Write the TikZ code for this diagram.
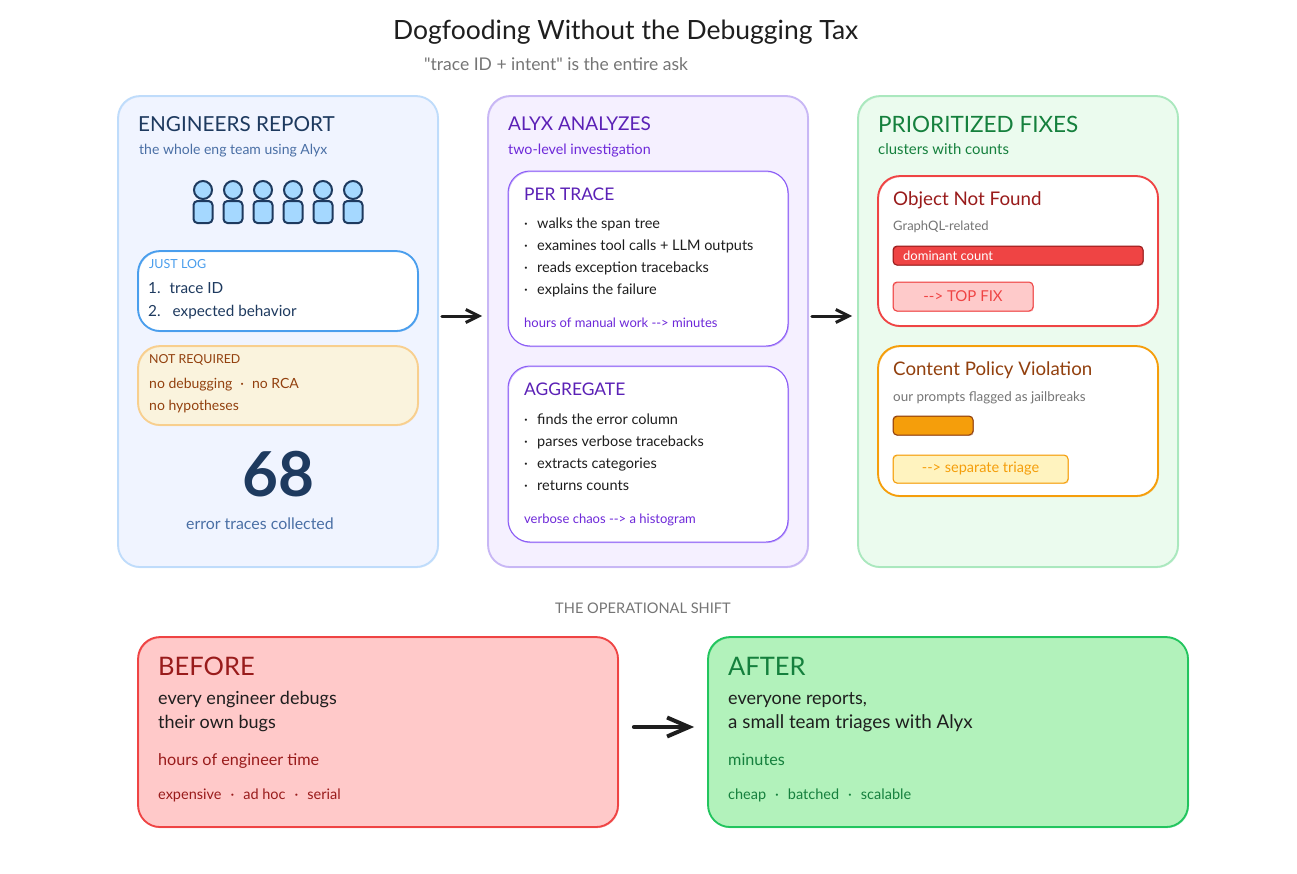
\documentclass[tikz,border=0pt]{standalone}
\usepackage{fontspec}
\setmainfont{Lato}[Ligatures=TeXOff]
\usetikzlibrary{arrows.meta}

\definecolor{ink}{HTML}{1E1E1E}
\definecolor{grey}{HTML}{757575}
\definecolor{navy}{HTML}{1E3A5F}
\definecolor{steel}{HTML}{4A6FA5}
\definecolor{skyline}{HTML}{4A9EED}
\definecolor{plum}{HTML}{5B21B6}
\definecolor{violet}{HTML}{6D28D9}
\definecolor{lilac}{HTML}{8B5CF6}
\definecolor{forest}{HTML}{15803D}
\definecolor{rust}{HTML}{92400E}
\definecolor{wine}{HTML}{991B1B}
\definecolor{coral}{HTML}{EF4444}
\definecolor{amber}{HTML}{F59E0B}
\definecolor{grass}{HTML}{22C55E}
\definecolor{person}{HTML}{A5D8FF}
\definecolor{reportline}{HTML}{BFDCFB}
\definecolor{reportfill}{HTML}{F0F4FF}
\definecolor{analyzeline}{HTML}{C8B7F5}
\definecolor{analyzefill}{HTML}{F5F0FF}
\definecolor{fixesline}{HTML}{AAE8BE}
\definecolor{fixesfill}{HTML}{EBFBEE}
\definecolor{sandline}{HTML}{F8CF8E}
\definecolor{sandfill}{HTML}{FAF3DD}
\definecolor{pinkfill}{HTML}{FECACA}
\definecolor{creamfill}{HTML}{FFF3BF}
\definecolor{beforefill}{HTML}{FFC9C9}
\definecolor{afterfill}{HTML}{B2F2BB}

\tikzset{
  txt/.style={anchor=base west, inner sep=0pt, yshift={-0.33*#1-0.6}, font=\fontsize{#1}{#1}\selectfont},
  mid/.style={anchor=base, inner sep=0pt, yshift={-0.33*#1-0.6}, font=\fontsize{#1}{#1}\selectfont},
  size/.style 2 args={minimum width=#1pt, minimum height=#2pt, inner sep=0pt},
  box/.style={draw=#1, rectangle, line width=1.8pt, rounded corners=22pt,
    postaction={draw=#1, line width=.8pt, opacity=.5, transform canvas={shift={(.6pt,-.7pt)}}}},
  thinbox/.style={box=#1, line width=1pt},
  chip/.style={draw=#1, rectangle, line width=1pt, rounded corners=4pt,
    postaction={draw=#1, line width=.6pt, opacity=.5, transform canvas={shift={(.5pt,-.6pt)}}}},
  head/.style={draw=navy, fill=person, circle, line width=2pt, minimum size=18pt, inner sep=0pt},
  body/.style={draw=navy, fill=person, rectangle, line width=2pt, rounded corners=4pt, size={19}{22}},
  link/.style={draw=ink, line width=3pt, line cap=round, -{Straight Barb[length=13pt,width=13pt]}},
  biglink/.style={draw=ink, line width=4pt, line cap=round, -{Straight Barb[length=22pt,width=19pt]}},
}
\newcommand{\bul}{\makebox[13pt][l]{·}}

\begin{document}
\begin{tikzpicture}[x=1pt, y=-1pt]
  \useasboundingbox (0,0) rectangle (1297,873);
  \fill[white] (0,0) rectangle (1297,873);

  % heading
  \node[txt=26.5, text=ink] (heading) at (393,30) {Dogfooding Without the Debugging Tax};
  \node[txt=17.5, text=grey] (ask) at (424,64) {"trace ID + intent" is the entire ask};

  % three panels
  \node[box=reportline, fill=reportfill, size={320}{471}] (report) at (278,331.5) {};
  \node[box=analyzeline, fill=analyzefill, size={320}{471}] (analyze) at (648,331.5) {};
  \node[box=fixesline, fill=fixesfill, size={320}{471}] (fixes) at (1018,331.5) {};

  % engineers report
  \node[txt=20.7, text=navy] (reporttitle) at (138,124) {ENGINEERS REPORT};
  \node[txt=14, text=steel] (reportsub) at (139,149) {the whole eng team using Alyx};
  \foreach \x [count=\i] in {203,233,263,293,323,353} {
    \node[body] (body\i) at (\x,212) {};
    \node[head] (head\i) at (\x,190) {};
  }
  \node[box=skyline, fill=white, size={280}{80}] (justlog) at (278,291) {};
  \node[txt=12.5, text=skyline] (justlogtitle) at (149,264) {JUST LOG};
  \node[txt=15.3, text=navy] (item1) at (148,288) {1.\hspace{9pt}trace ID};
  \node[txt=15.3, text=navy] (item2) at (148,311) {2.\hspace{12pt}expected behavior};
  \node[box=sandline, fill=sandfill, size={280}{79}] (notreq) at (278,385.5) {};
  \node[txt=12.4, text=rust] (notreqtitle) at (149,359) {NOT REQUIRED};
  \node[txt=14, text=rust] (notreq1) at (149,383) {no debugging\hspace{8pt}·\hspace{8pt}no RCA};
  \node[txt=14, text=rust] (notreq2) at (149,405) {no hypotheses};
  \node[mid=62, text=navy, font=\fontsize{62}{62}\selectfont\bfseries] (count) at (278,475) {68};
  \node[txt=15.9, text=steel] (counttext) at (186,524) {error traces collected};

  % alyx analyzes
  \node[txt=19, text=plum] (analyzetitle) at (508,124) {ALYX ANALYZES};
  \node[txt=14.3, text=violet] (analyzesub) at (508,149) {two-level investigation};
  \node[thinbox=lilac, fill=white, size={280}{175}] (pertrace) at (648,258.5) {};
  \node[txt=17.4, text=plum] (pertracetitle) at (524,194) {PER TRACE};
  \foreach \y/\t [count=\i] in {223/walks the span tree, 245/examines tool calls + LLM outputs,
      267/reads exception tracebacks, 289/explains the failure} {
    \node[txt=14.5, text=ink] (trace\i) at (524,\y) {\bul\t};
  }
  \node[txt=13, text=violet] (tracefoot) at (524,323) {hours of manual work --> minutes};
  \node[thinbox=lilac, fill=white, size={280}{176}] (aggregate) at (648,454) {};
  \node[txt=17.4, text=plum] (aggregatetitle) at (524,389) {AGGREGATE};
  \foreach \y/\t [count=\i] in {419/finds the error column, 441/parses verbose tracebacks,
      463/extracts categories, 485/returns counts} {
    \node[txt=14.5, text=ink] (agg\i) at (524,\y) {\bul\t};
  }
  \node[txt=13, text=violet] (aggfoot) at (524,519) {verbose chaos --> a histogram};

  % prioritized fixes
  \node[txt=22.5, text=forest] (fixestitle) at (878,124) {PRIORITIZED FIXES};
  \node[txt=14.9, text=forest] (fixessub) at (878,149) {clusters with counts};
  \node[box=coral, fill=white, size={280}{150}] (redcard) at (1018,251) {};
  \node[txt=18.8, text=wine] (redtitle) at (893,199) {Object Not Found};
  \node[txt=13, text=grey] (redsub) at (893,226) {GraphQL-related};
  \node[chip=wine, fill=coral, size={250}{19}] (redbar) at (1018,255.5) {};
  \node[txt=13, text=white] (redbartext) at (903,256) {dominant count};
  \node[chip=coral, fill=pinkfill, size={140}{29}, text=coral, font=\fontsize{15}{15}\selectfont] (topfix) at (963,296.5) {--> TOP FIX};
  \node[box=amber, fill=white, size={280}{150}] (orangecard) at (1018,421) {};
  \node[txt=18.7, text=rust] (orangetitle) at (893,369) {Content Policy Violation};
  \node[txt=13.4, text=grey] (orangesub) at (893,396) {our prompts flagged as jailbreaks};
  \node[chip=rust, fill=amber, size={80}{19}] (orangebar) at (933,425.5) {};
  \node[chip=amber, fill=creamfill, size={175}{28}, text=amber, font=\fontsize{14.5}{14.5}\selectfont] (triage) at (980.5,469) {--> separate triage};

  % panel arrows
  \draw[link, shorten <=3pt, shorten >=5pt] ([yshift=15.5pt]report.east) -- ([yshift=15.5pt]analyze.west);
  \draw[link, shorten <=3pt, shorten >=5pt] ([yshift=15.5pt]analyze.east) -- ([yshift=15.5pt]fixes.west);

  % shift
  \node[mid=14.6, text=grey] (shift) at (643,608) {THE OPERATIONAL SHIFT};
  \node[box=coral, fill=beforefill, size={480}{190}] (before) at (378,732) {};
  \node[txt=25.5, text=wine] (beforetitle) at (158,666) {BEFORE};
  \node[txt=18, text=ink] (before1) at (158,698) {every engineer debugs};
  \node[txt=18, text=ink] (before2) at (158,722) {their own bugs};
  \node[txt=16.2, text=wine] (beforetime) at (158,760) {hours of engineer time};
  \node[txt=14.5, text=wine] (beforecost) at (158,794) {expensive\hspace{9pt}·\hspace{9pt}ad hoc\hspace{9pt}·\hspace{9pt}serial};
  \node[box=grass, fill=afterfill, size={480}{190}] (after) at (948,732) {};
  \node[txt=25.5, text=forest] (aftertitle) at (728,666) {AFTER};
  \node[txt=18, text=ink] (after1) at (728,698) {everyone reports,};
  \node[txt=18.8, text=ink] (after2) at (728,722) {a small team triages with Alyx};
  \node[txt=16.2, text=forest] (aftertime) at (728,760) {minutes};
  \node[txt=14.5, text=forest] (aftercost) at (728,794) {cheap\hspace{9pt}·\hspace{9pt}batched\hspace{9pt}·\hspace{9pt}scalable};
  \draw[biglink, shorten <=15pt, shorten >=13pt] ([yshift=5pt]before.east) -- ([yshift=5pt]after.west);
\end{tikzpicture}
\end{document}
